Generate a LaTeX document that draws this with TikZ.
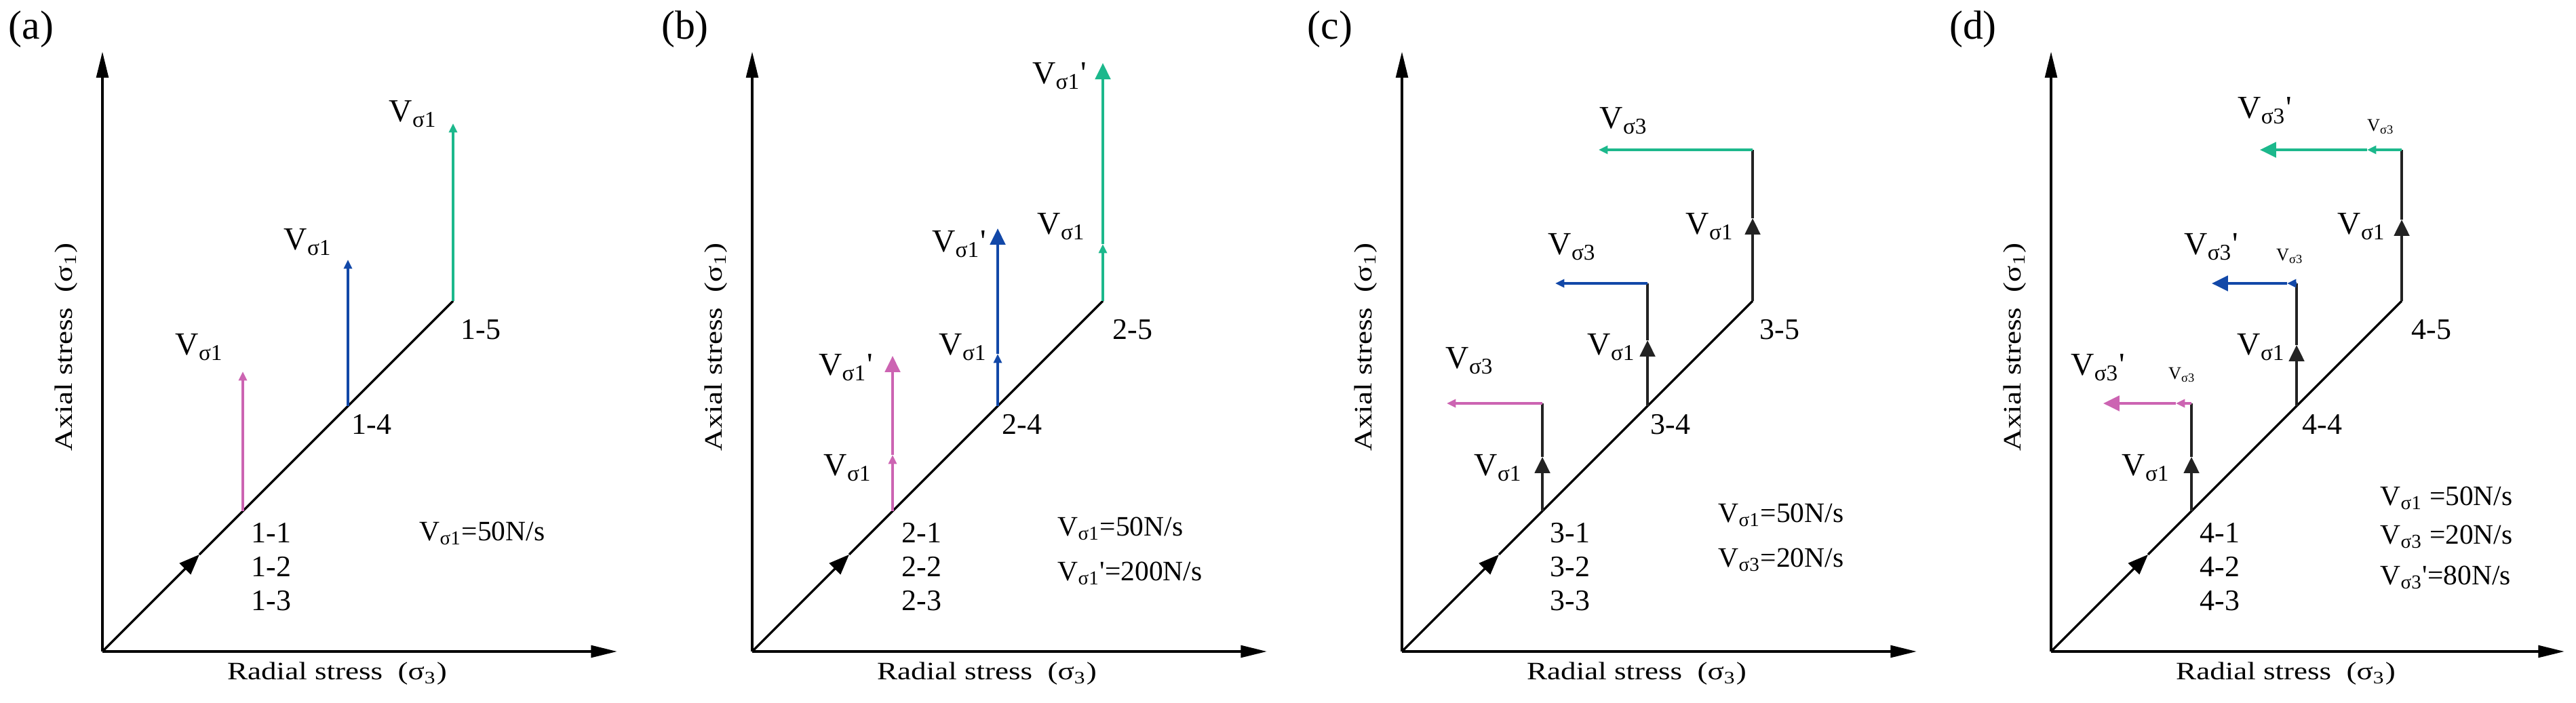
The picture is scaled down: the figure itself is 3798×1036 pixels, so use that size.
\documentclass[tikz,border=0pt]{standalone}
\usepackage{fontspec}
\setmainfont{Liberation Serif}
\usetikzlibrary{arrows.meta}
\definecolor{cpink}{RGB}{204,100,178}
\definecolor{cblue}{RGB}{18,72,168}
\definecolor{cgreen}{RGB}{28,184,140}
\definecolor{cdark}{RGB}{35,35,35}
\newcommand{\myV}[1]{V\textsubscript{σ#1}}
\newcommand{\myq}{\textquotesingle}
\newcommand{\axtext}[1]{\scalebox{1.22}[1]{#1}}
\tikzset{
  axisln/.style={line width=1.1pt, -{Triangle[length=11pt,width=5pt]}},
  diagln/.style={line width=0.95pt},
  diagtip/.style={-{Triangle[length=8.5pt,width=6.5pt]}},
  colln/.style={line width=1pt},
  tipS/.style={-{Triangle[length=3.8pt,width=3.4pt]}},
  tipB/.style={-{Triangle[length=6.8pt,width=6.4pt]}},
  lab/.style={font=\fontsize{13.5}{15}\selectfont, inner sep=0pt},
  num/.style={font=\fontsize{12.5}{14.2}\selectfont, inner sep=0pt, align=left},
  rate/.style={font=\fontsize{11.8}{14}\selectfont, inner sep=0pt, anchor=west},
  small/.style={font=\fontsize{7.5}{9}\selectfont, inner sep=0pt},
  axlab/.style={font=\fontsize{10.5}{12}\selectfont, inner sep=0pt},
  plab/.style={font=\fontsize{17}{19}\selectfont, inner sep=0pt},
}
\begin{document}
\begin{tikzpicture}[x=0.01cm,y=-0.01cm]
\useasboundingbox (0,0) rectangle (3798,1036);

% ================= panel (a) =================
\begin{scope}[shift={(151,0)}]
\coordinate (aO) at (0,961);
\coordinate (aY) at (0,76);
\coordinate (aX) at (759,961);
\coordinate (aDm) at (143,818);
\coordinate (aD5) at (517,444);
\coordinate (aP0) at (207,754);
\coordinate (aP1) at (207,548);
\coordinate (aB0) at (362,599);
\coordinate (aB1) at (362,383);
\coordinate (aG1) at (517,182);
\draw[axisln] (aO) -- (aY);
\draw[axisln] (aO) -- (aX);
\draw[diagln, diagtip] (aO) -- (aDm);
\draw[diagln] (aDm) -- (aD5);
\draw[colln, cpink, tipS] (aP0) -- (aP1);
\draw[colln, cblue, tipS] (aB0) -- (aB1);
\draw[colln, cgreen, tipS] (aD5) -- (aG1);
\node[plab] (aT) at (-105,43) {(a)};
\node[axlab, rotate=90] (aAx) at (-53,512) {\axtext{Axial stress\ \ (σ\textsubscript{1})}};
\node[axlab] (aRx) at (346,994) {\axtext{Radial stress\ \ (σ\textsubscript{3})}};
\node[lab] (aL1) at (143,512) {\myV1};
\node[lab] (aL2) at (303,357) {\myV1};
\node[lab] (aL3) at (458,168) {\myV1};
\node[num] (aN5) at (558,486) {1-5};
\node[num] (aN4) at (397,626) {1-4};
\node[num] (aN1) at (249,836) {1-1\\1-2\\1-3};
\node[rate] (aR1) at (467,787) {\myV1=50N/s};
\end{scope}

% ================= panel (b) =================
\begin{scope}[shift={(1109,0)}]
\coordinate (bO) at (0,961);
\coordinate (bY) at (0,76);
\coordinate (bX) at (759,961);
\coordinate (bDm) at (143,818);
\coordinate (bD5) at (517,444);
\coordinate (bP0) at (207,754);
\coordinate (bPm) at (207,671);
\coordinate (bP1) at (207,525);
\coordinate (bB0) at (362,599);
\coordinate (bBm) at (362,522);
\coordinate (bB1) at (362,337);
\coordinate (bGm) at (517,360);
\coordinate (bG1) at (517,93);
\draw[axisln] (bO) -- (bY);
\draw[axisln] (bO) -- (bX);
\draw[diagln, diagtip] (bO) -- (bDm);
\draw[diagln] (bDm) -- (bD5);
\draw[colln, cpink, tipS] (bP0) -- (bPm);
\draw[colln, cpink, tipB] (bPm) -- (bP1);
\draw[colln, cblue, tipS] (bB0) -- (bBm);
\draw[colln, cblue, tipB] (bBm) -- (bB1);
\draw[colln, cgreen, tipS] (bD5) -- (bGm);
\draw[colln, cgreen, tipB] (bGm) -- (bG1);
\node[plab] (bT) at (-99,43) {(b)};
\node[axlab, rotate=90] (bAx) at (-53,512) {\axtext{Axial stress\ \ (σ\textsubscript{1})}};
\node[axlab] (bRx) at (346,994) {\axtext{Radial stress\ \ (σ\textsubscript{3})}};
\node[lab] (bL1) at (138,542) {\myV1\myq};
\node[lab] (bL2) at (141,690) {\myV1};
\node[lab] (bL3) at (305,360) {\myV1\myq};
\node[lab] (bL4) at (311,512) {\myV1};
\node[lab] (bL5) at (453,112) {\myV1\myq};
\node[lab] (bL6) at (456,334) {\myV1};
\node[num] (bN5) at (561,486) {2-5};
\node[num] (bN4) at (398,626) {2-4};
\node[num] (bN1) at (250,836) {2-1\\2-2\\2-3};
\node[rate] (bR1) at (450,780) {\myV1=50N/s};
\node[rate] (bR2) at (450,846) {\myV1\myq=200N/s};
\end{scope}

% ================= panel (c) =================
\begin{scope}[shift={(2067,0)}]
\coordinate (cO) at (0,961);
\coordinate (cY) at (0,76);
\coordinate (cX) at (759,961);
\coordinate (cDm) at (143,818);
\coordinate (cD5) at (517,444);
\coordinate (cP0) at (207,754);
\coordinate (cPm) at (207,674);
\coordinate (cP1) at (207,595);
\coordinate (cPe) at (66,595);
\coordinate (cB0) at (362,599);
\coordinate (cBm) at (362,502);
\coordinate (cB1) at (362,418);
\coordinate (cBe) at (226,418);
\coordinate (cGm) at (517,322);
\coordinate (cG1) at (517,221);
\coordinate (cGe) at (290,221);
\draw[axisln] (cO) -- (cY);
\draw[axisln] (cO) -- (cX);
\draw[diagln, diagtip] (cO) -- (cDm);
\draw[diagln] (cDm) -- (cD5);
\draw[colln, cdark, tipB] (cP0) -- (cPm);
\draw[colln, cdark] (cPm) -- (cP1);
\draw[colln, cpink, tipS] (cP1) -- (cPe);
\draw[colln, cdark, tipB] (cB0) -- (cBm);
\draw[colln, cdark] (cBm) -- (cB1);
\draw[colln, cblue, tipS] (cB1) -- (cBe);
\draw[colln, cdark, tipB] (cD5) -- (cGm);
\draw[colln, cdark] (cGm) -- (cG1);
\draw[colln, cgreen, tipS] (cG1) -- (cGe);
\node[plab] (cT) at (-106,43) {(c)};
\node[axlab, rotate=90] (cAx) at (-53,512) {\axtext{Axial stress\ \ (σ\textsubscript{1})}};
\node[axlab] (cRx) at (346,994) {\axtext{Radial stress\ \ (σ\textsubscript{3})}};
\node[lab] (cL1) at (100,532) {\myV3};
\node[lab] (cL2) at (142,690) {\myV1};
\node[lab] (cL3) at (251,364) {\myV3};
\node[lab] (cL4) at (309,512) {\myV1};
\node[lab] (cL5) at (327,178) {\myV3};
\node[lab] (cL6) at (454,334) {\myV1};
\node[num] (cN5) at (557,486) {3-5};
\node[num] (cN4) at (396,626) {3-4};
\node[num] (cN1) at (248,836) {3-1\\3-2\\3-3};
\node[rate] (cR1) at (466,760) {\myV1=50N/s};
\node[rate] (cR2) at (466,826) {\myV3=20N/s};
\end{scope}

% ================= panel (d) =================
\begin{scope}[shift={(3024,0)}]
\coordinate (dO) at (0,961);
\coordinate (dY) at (0,76);
\coordinate (dX) at (757,961);
\coordinate (dDm) at (143,818);
\coordinate (dD5) at (517,444);
\coordinate (dP0) at (207,754);
\coordinate (dPm) at (207,674);
\coordinate (dP1) at (207,595);
\coordinate (dPs) at (184,595);
\coordinate (dPe) at (77,595);
\coordinate (dB0) at (362,599);
\coordinate (dBm) at (362,509);
\coordinate (dB1) at (362,418);
\coordinate (dBs) at (348,418);
\coordinate (dBe) at (237,418);
\coordinate (dGm) at (517,324);
\coordinate (dG1) at (517,221);
\coordinate (dGs) at (466,221);
\coordinate (dGe) at (308,221);
\draw[axisln] (dO) -- (dY);
\draw[axisln] (dO) -- (dX);
\draw[diagln, diagtip] (dO) -- (dDm);
\draw[diagln] (dDm) -- (dD5);
\draw[colln, cdark, tipB] (dP0) -- (dPm);
\draw[colln, cdark] (dPm) -- (dP1);
\draw[colln, cpink, tipS] (dP1) -- (dPs);
\draw[colln, cpink, tipB] (dPs) -- (dPe);
\draw[colln, cdark, tipB] (dB0) -- (dBm);
\draw[colln, cdark] (dBm) -- (dB1);
\draw[colln, cblue, tipS] (dB1) -- (dBs);
\draw[colln, cblue, tipB] (dBs) -- (dBe);
\draw[colln, cdark, tipB] (dD5) -- (dGm);
\draw[colln, cdark] (dGm) -- (dG1);
\draw[colln, cgreen, tipS] (dG1) -- (dGs);
\draw[colln, cgreen, tipB] (dGs) -- (dGe);
\node[plab] (dT) at (-115,43) {(d)};
\node[axlab, rotate=90] (dAx) at (-53,512) {\axtext{Axial stress\ \ (σ\textsubscript{1})}};
\node[axlab] (dRx) at (346,994) {\axtext{Radial stress\ \ (σ\textsubscript{3})}};
\node[lab] (dL1) at (69,542) {\myV3\myq};
\node[small] (dS1) at (193,553) {\myV3};
\node[lab] (dL2) at (140,690) {\myV1};
\node[lab] (dL3) at (236,364) {\myV3\myq};
\node[small] (dS2) at (352,378) {\myV3};
\node[lab] (dL4) at (310,512) {\myV1};
\node[lab] (dL5) at (315,163) {\myV3\myq};
\node[small] (dS3) at (486,187) {\myV3};
\node[lab] (dL6) at (458,334) {\myV1};
\node[num] (dN5) at (561,486) {4-5};
\node[num] (dN4) at (400,626) {4-4};
\node[num] (dN1) at (249,836) {4-1\\4-2\\4-3};
\node[rate] (dR1) at (485,735) {\myV1 =50N/s};
\node[rate] (dR2) at (485,792) {\myV3 =20N/s};
\node[rate] (dR3) at (485,852) {\myV3\myq=80N/s};
\end{scope}
\end{tikzpicture}
\end{document}
